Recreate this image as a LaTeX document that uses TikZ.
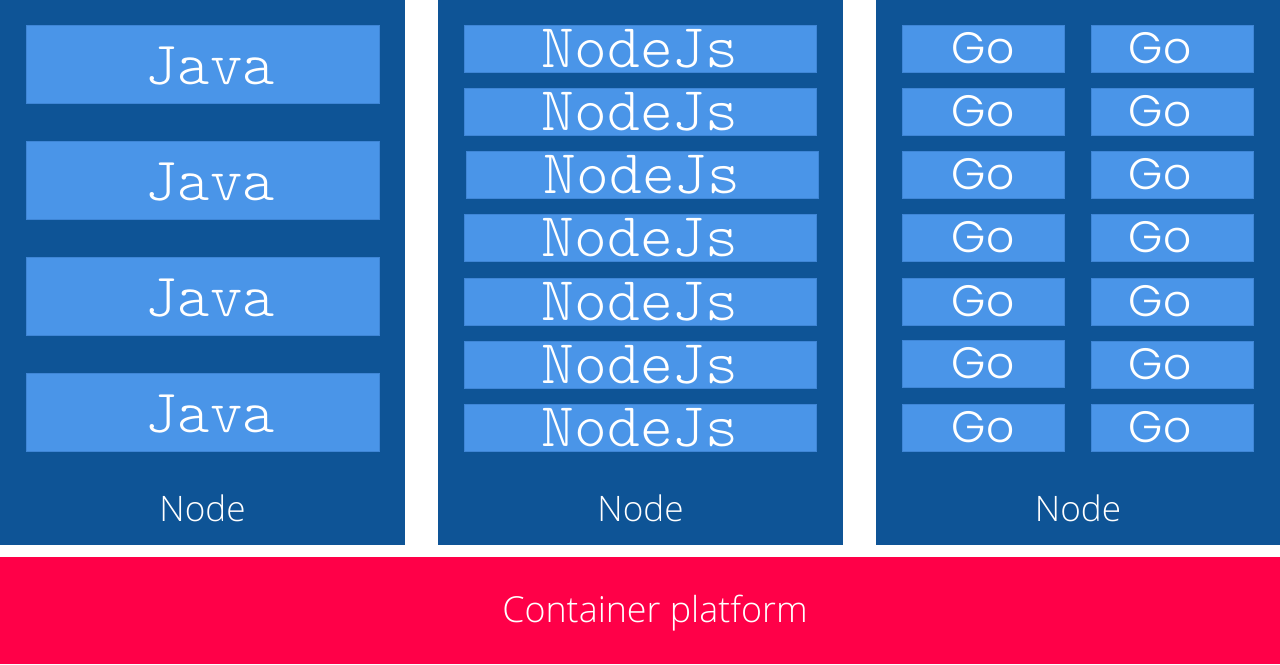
\documentclass[tikz,border=0pt]{standalone}
\usepackage{fontspec}
\setmainfont{Open Sans Light}
\newfontfamily\gofont{Poppins Light}
\newfontfamily\lightmono{lmmonolt10-regular.otf}
\usepackage{tikz}
\definecolor{colorNODE}{HTML}{0E5496}
\definecolor{colorPOD}{HTML}{4A95E8}
\definecolor{colorPODEDGE}{HTML}{3F86D6}
\definecolor{colorPLAT}{HTML}{FF0048}
\usetikzlibrary{positioning}
\tikzset{
   host/.style={rectangle,fill=colorNODE,inner sep=0pt,minimum width=405*0.02cm,minimum height=545*0.02cm},
   pod/.style={rectangle,fill=colorPOD,draw=colorPODEDGE,line width=0.4pt,inner sep=0pt,text=white},
   javapod/.style={pod,minimum width=353*0.02cm,minimum height=78*0.02cm,
      label={[javatext]center:Java}},
   javatext/.style={text=white,xshift=7.5*0.02cm,yshift=-2.5*0.02cm,font=\lightmono\fontsize{35}{36}\selectfont},
   nodepod/.style={pod,minimum width=352*0.02cm,minimum height=47*0.02cm,font=\lightmono\fontsize{35.5}{36}\selectfont},
   gopod/.style={pod,minimum width=162*0.02cm,minimum height=47*0.02cm,font=\gofont\fontsize{25}{26}\selectfont},
   gopodr/.style={pod,minimum width=162*0.02cm,minimum height=47*0.02cm,
      label={[gotext]center:Go}},
   gotext/.style={text=white,xshift=-12*0.02cm,font=\gofont\fontsize{25}{26}\selectfont},
   hostlabel/.style={text=white,font=\fontsize{20}{22}\selectfont},
   platform/.style={rectangle,fill=colorPLAT,inner sep=0pt,minimum width=1280*0.02cm,minimum height=107*0.02cm},
   platlabel/.style={text=white,font=\fontsize{20.4}{22}\selectfont},
}

\begin{document}
\begin{tikzpicture}[x=0.02cm,y=-0.02cm]

        \useasboundingbox (0,0) rectangle (1280,664);

        % hosts
        \node[host] (h1) at (202.5, 272.5) {};
        \node[host] (h2) at (640.5, 272.5) {};
        \node[host,minimum width=404*0.02cm] (h3) at (1078, 272.5) {};

        \node[hostlabel] (l1) at (202.5, 508) {Node};
        \node[hostlabel] (l2) at (640.5, 508) {Node};
        \node[hostlabel] (l3) at (1078, 508) {Node};

        % java
        \node[javapod] (j1) at (202.5,  64) {};
        \node[javapod] (j2) at (202.5, 180) {};
        \node[javapod] (j3) at (202.5, 296) {};
        \node[javapod] (j4) at (202.5, 412) {};

        % nodejs
        \node[nodepod] (n1) at (640, 48.5) {NodeJs};
        \node[nodepod] (n2) at (640, 111.5) {NodeJs};
        \node[nodepod] (n3) at (642, 174.5) {NodeJs};
        \node[nodepod] (n4) at (640, 237.5) {NodeJs};
        \node[nodepod] (n5) at (640, 301.5) {NodeJs};
        \node[nodepod] (n6) at (640, 364.5) {NodeJs};
        \node[nodepod] (n7) at (640, 427.5) {NodeJs};

        % go
        \node[gopod] (g11) at (983,  48.5) {Go};
        \node[gopod] (g12) at (983, 111.5) {Go};
        \node[gopod] (g13) at (983, 174.5) {Go};
        \node[gopod] (g14) at (983, 237.5) {Go};
        \node[gopod] (g15) at (983, 301.5) {Go};
        \node[gopod] (g16) at (983, 363.5) {Go};
        \node[gopod] (g17) at (983, 427.5) {Go};

        \node[gopodr] (g21) at (1172,  48.5) {};
        \node[gopodr] (g22) at (1172, 111.5) {};
        \node[gopodr] (g23) at (1172, 174.5) {};
        \node[gopodr] (g24) at (1172, 237.5) {};
        \node[gopodr] (g25) at (1172, 301.5) {};
        \node[gopodr] (g26) at (1172, 364.5) {};
        \node[gopodr] (g27) at (1172, 427.5) {};

        % platform
        \node[platform] (plat) at (640, 610.5) {};
        \node[platlabel] (platl) at (655, 613.5) {Container platform};

      \end{tikzpicture}
\end{document}
